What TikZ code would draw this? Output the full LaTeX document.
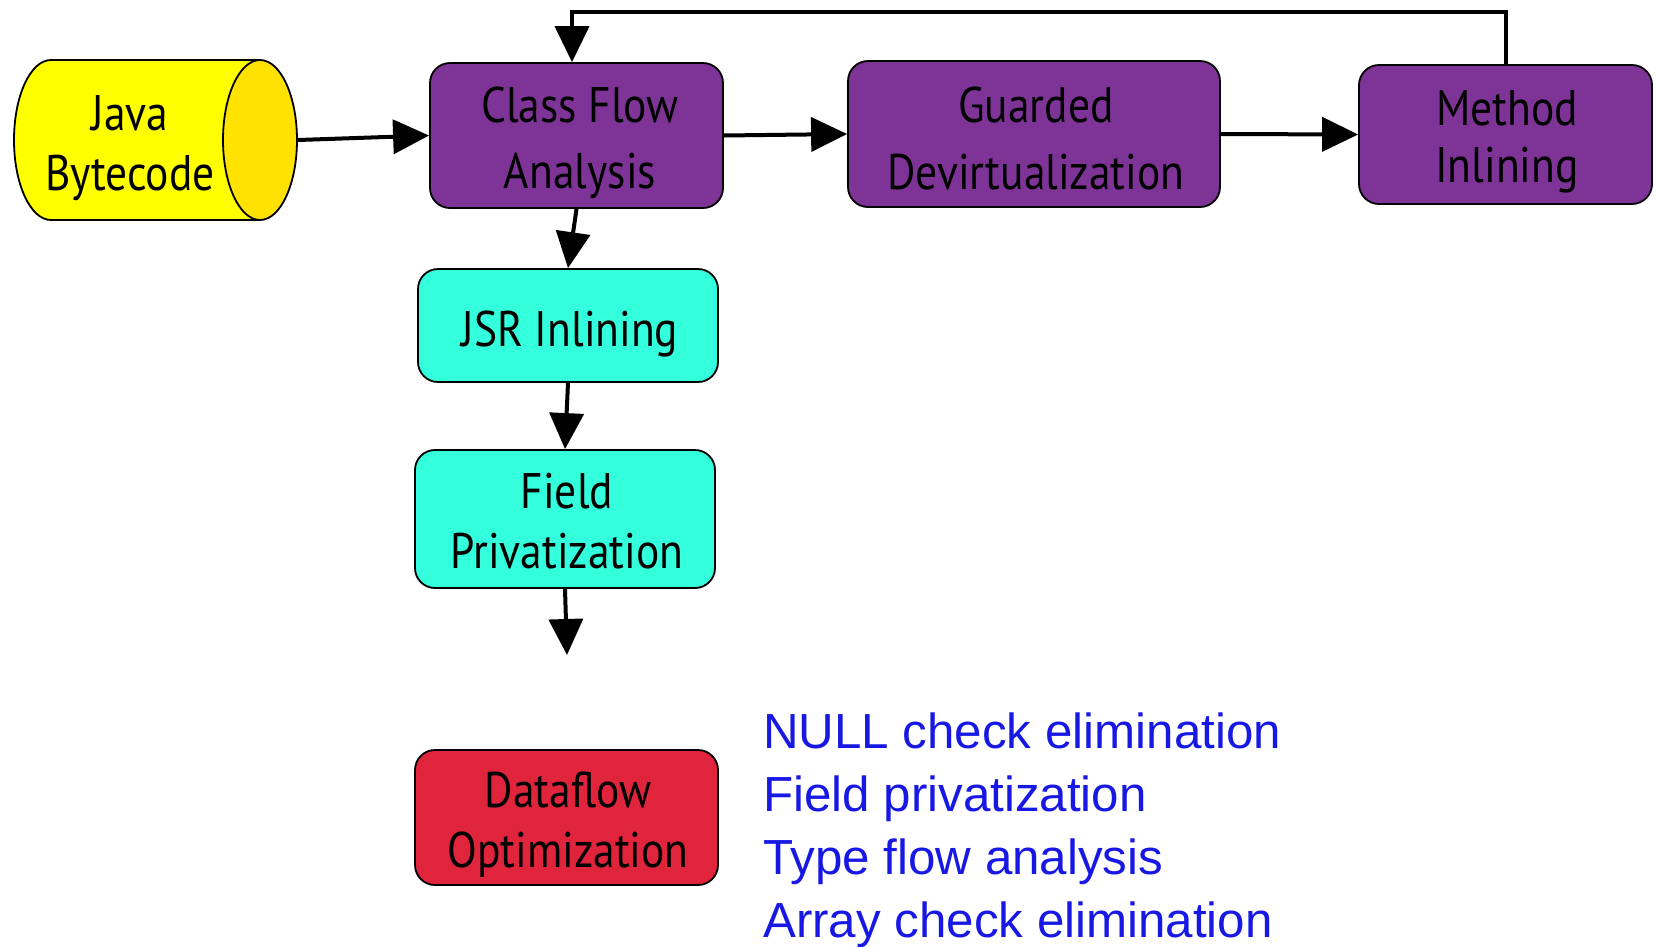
\documentclass[tikz,border=0pt]{standalone}
\usepackage{fontspec}
\usetikzlibrary{arrows.meta}
\newfontfamily\boxfont[FakeStretch=0.87]{PT Sans}
\newfontfamily\listfont{Liberation Sans}
\definecolor{cpurple}{RGB}{126,52,150}
\definecolor{ccyan}{RGB}{51,255,221}
\definecolor{cred}{RGB}{224,36,60}
\definecolor{cyell}{RGB}{255,255,0}
\definecolor{ccap}{RGB}{255,226,0}
\definecolor{cblue}{RGB}{24,24,228}
\tikzset{
  stage/.style={draw=black, line width=1.8pt, rounded corners=20pt, inner sep=0pt},
  stagetext/.style={anchor=base, inner sep=0pt, font=\boxfont\fontsize{50}{60}\selectfont},
  arr/.style={line width=4pt, -{Triangle[length=36pt,width=34pt]}},
  listitem/.style={anchor=base west, inner sep=0pt, text=cblue, font=\listfont\fontsize{49.3}{60}\selectfont}
}
\begin{document}
\begin{tikzpicture}[x=1pt,y=-1pt]
\useasboundingbox (0,0) rectangle (1656,946);
% Java Bytecode cylinder
\filldraw[fill=cyell, draw=black, line width=1.8pt] (260,60) -- (51,60) arc[start angle=90, end angle=270, x radius=37, y radius=-80] -- (260,220);
\filldraw[fill=ccap, draw=black, line width=1.8pt] (260,140) ellipse[x radius=37, y radius=80];
\node[inner sep=0pt, minimum width=284pt, minimum height=160pt] (java) at (156,140) {};
\node[stagetext] (javat1) at (130,130) {Java};
\node[stagetext] (javat2) at (130,190) {Bytecode};
% stages
\node[stage, fill=cpurple, minimum width=293pt, minimum height=145pt] (cfa) at (576.5,135.5) {};
\node[stage, fill=cpurple, minimum width=372pt, minimum height=146pt] (gd) at (1034,134) {};
\node[stage, fill=cpurple, minimum width=293pt, minimum height=139pt] (mi) at (1505.5,134.5) {};
\node[stage, fill=ccyan, minimum width=300pt, minimum height=113pt] (jsr) at (568,325.5) {};
\node[stage, fill=ccyan, minimum width=300pt, minimum height=138pt] (fp) at (565,519) {};
\node[stage, fill=cred, minimum width=303pt, minimum height=135pt] (dfo) at (566.5,817.5) {};
\node[stagetext] (cfat1) at (580,122) {Class Flow};
\node[stagetext] (cfat2) at (580,188) {Analysis};
\node[stagetext] (gdt1) at (1036,122) {Guarded};
\node[stagetext] (gdt2) at (1036,189) {Devirtualization};
\node[stagetext] (mit1) at (1507,125) {Method};
\node[stagetext] (mit2) at (1507,182) {Inlining};
\node[stagetext] (jsrt) at (570,346) {JSR Inlining};
\node[stagetext] (fpt1) at (567,508) {Field};
\node[stagetext] (fpt2) at (567,568) {Privatization};
\node[stagetext] (dfot1) at (568,807) {Dataflow};
\node[stagetext] (dfot2) at (568,867) {Optimization};
% connectors
\coordinate (fpout) at (567,655);
\coordinate (topR) at (1505.5,12);
\coordinate (topL) at (572,12);
\draw[arr] (java.east) -- (cfa.west);
\draw[arr] (cfa.east) -- (gd.west);
\draw[arr] (gd.east) -- (mi.west);
\draw[arr] (cfa.south) -- (jsr.north);
\draw[arr] (jsr.south) -- (fp.north);
\draw[arr] (fp.south) -- (fpout);
\draw[arr] (mi.north) -- (topR) -- (topL) -- (topL |- cfa.north);
% list
\node[listitem] (l1) at (763,748) {NULL check elimination};
\node[listitem] (l2) at (763,811) {Field privatization};
\node[listitem] (l3) at (763,874) {Type flow analysis};
\node[listitem] (l4) at (763,937) {Array check elimination};
\end{tikzpicture}
\end{document}
